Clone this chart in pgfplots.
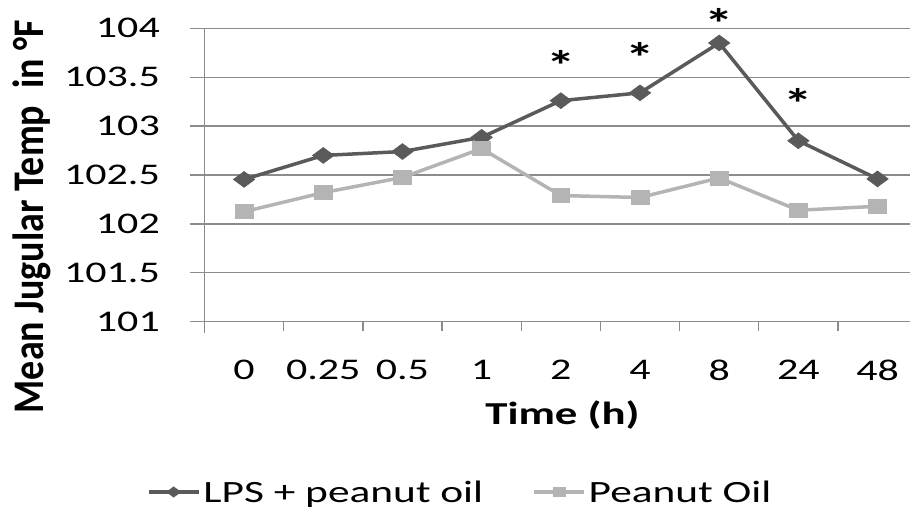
\documentclass[border=0pt]{standalone}
\usepackage{pgfplots}
\pgfplotsset{compat=1.18}
\usepackage{fontspec}
\setmainfont{Carlito}[FakeStretch=1.4]
\newfontfamily\ylabfont{Carlito}
\definecolor{lpsc}{HTML}{5A5A5A}
\definecolor{poc}{HTML}{B4B4B4}
\definecolor{gridc}{HTML}{8C8C8C}
\begin{document}
\begin{tikzpicture}
\useasboundingbox (0pt,0pt) rectangle (910pt,517pt);
\begin{axis}[
  at={(204.5pt,195.3pt)}, anchor=south west,
  width=705.5pt, height=293.4pt, scale only axis,
  clip=false,
  xmin=-0.5, xmax=8.41, ymin=101, ymax=104,
  axis lines=left,
  axis line style={-, draw=gridc, line width=1.3pt},
  y axis line style={shorten <=-11pt},
  xtick={0,...,8},
  xticklabels={0,0.25,0.5,1,2,4,8,24,48},
  minor xtick={-0.5,0.5,...,7.5},
  ytick={101,101.5,...,104},
  yticklabels={101,101.5,102,102.5,103,103.5,104},
  ymajorgrids,
  major grid style={draw=gridc, line width=1.3pt},
  tick align=outside,
  major tick length=14.5pt,
  minor tick length=9pt,
  tick style={draw=gridc, line width=1.3pt},
  major x tick style={draw=none},
  ticklabel style={font=\fontsize{30}{36}\selectfont, text=black},
  yticklabel style={anchor=east, inner sep=0pt, xshift=-30pt},
  xticklabel style={anchor=north, inner sep=0pt, yshift=-24pt},
  ylabel={Mean Jugular Temp\ \ in °F},
  ylabel style={at={(axis description cs:-0.2289,0.3586)}, anchor=base, rotate=0, yscale=1.15, font=\ylabfont\bfseries\fontsize{38}{44}\selectfont},
  xlabel={Time (h)},
  xlabel style={at={(axis description cs:0.5074,-0.3487)}, anchor=base, font=\bfseries\fontsize{32}{38}\selectfont},
  legend style={at={(axis description cs:0.363,-0.5804)}, anchor=center, draw=none, fill=none,
    legend columns=2, font=\fontsize{31}{37}\selectfont, inner sep=0pt,
    /tikz/every even column/.append style={column sep=46pt},
    nodes={inner xsep=3pt, inner ysep=0pt}},
  legend image code/.code={%
    \draw[#1, mark=none] (0pt,0pt) -- (50pt,0pt);
    \draw[#1, every mark/.append style={scale=0.65}] plot coordinates {(25pt,0pt)};},
]
\addplot[color=lpsc, line width=3.5pt, mark=diamond*, mark size=8pt,
  mark options={xscale=1.8, line width=0.5pt, fill=lpsc}]
  coordinates {(0,102.455) (1,102.70) (2,102.74) (3,102.885) (4,103.26) (5,103.34) (6,103.85) (7,102.85) (8,102.46)};
\addlegendentry{LPS + peanut oil}
\addplot[color=poc, line width=3.5pt, mark=square*, mark size=7pt,
  mark options={xscale=1.27, line width=0.5pt, fill=poc}]
  coordinates {(0,102.125) (1,102.32) (2,102.475) (3,102.77) (4,102.29) (5,102.27) (6,102.47) (7,102.14) (8,102.18)};
\addlegendentry{Peanut Oil}
\node[font=\bfseries\fontsize{42}{48}\selectfont, inner sep=0pt, anchor=center, yshift=-8pt] at (axis cs:4,103.70) {*};
\node[font=\bfseries\fontsize{42}{48}\selectfont, inner sep=0pt, anchor=center, yshift=-8pt] at (axis cs:5,103.785) {*};
\node[font=\bfseries\fontsize{42}{48}\selectfont, inner sep=0pt, anchor=center, yshift=-8pt] at (axis cs:6,104.136) {*};
\node[font=\bfseries\fontsize{42}{48}\selectfont, inner sep=0pt, anchor=center, yshift=-8pt] at (axis cs:7,103.31) {*};
\end{axis}
\end{tikzpicture}
\end{document}
